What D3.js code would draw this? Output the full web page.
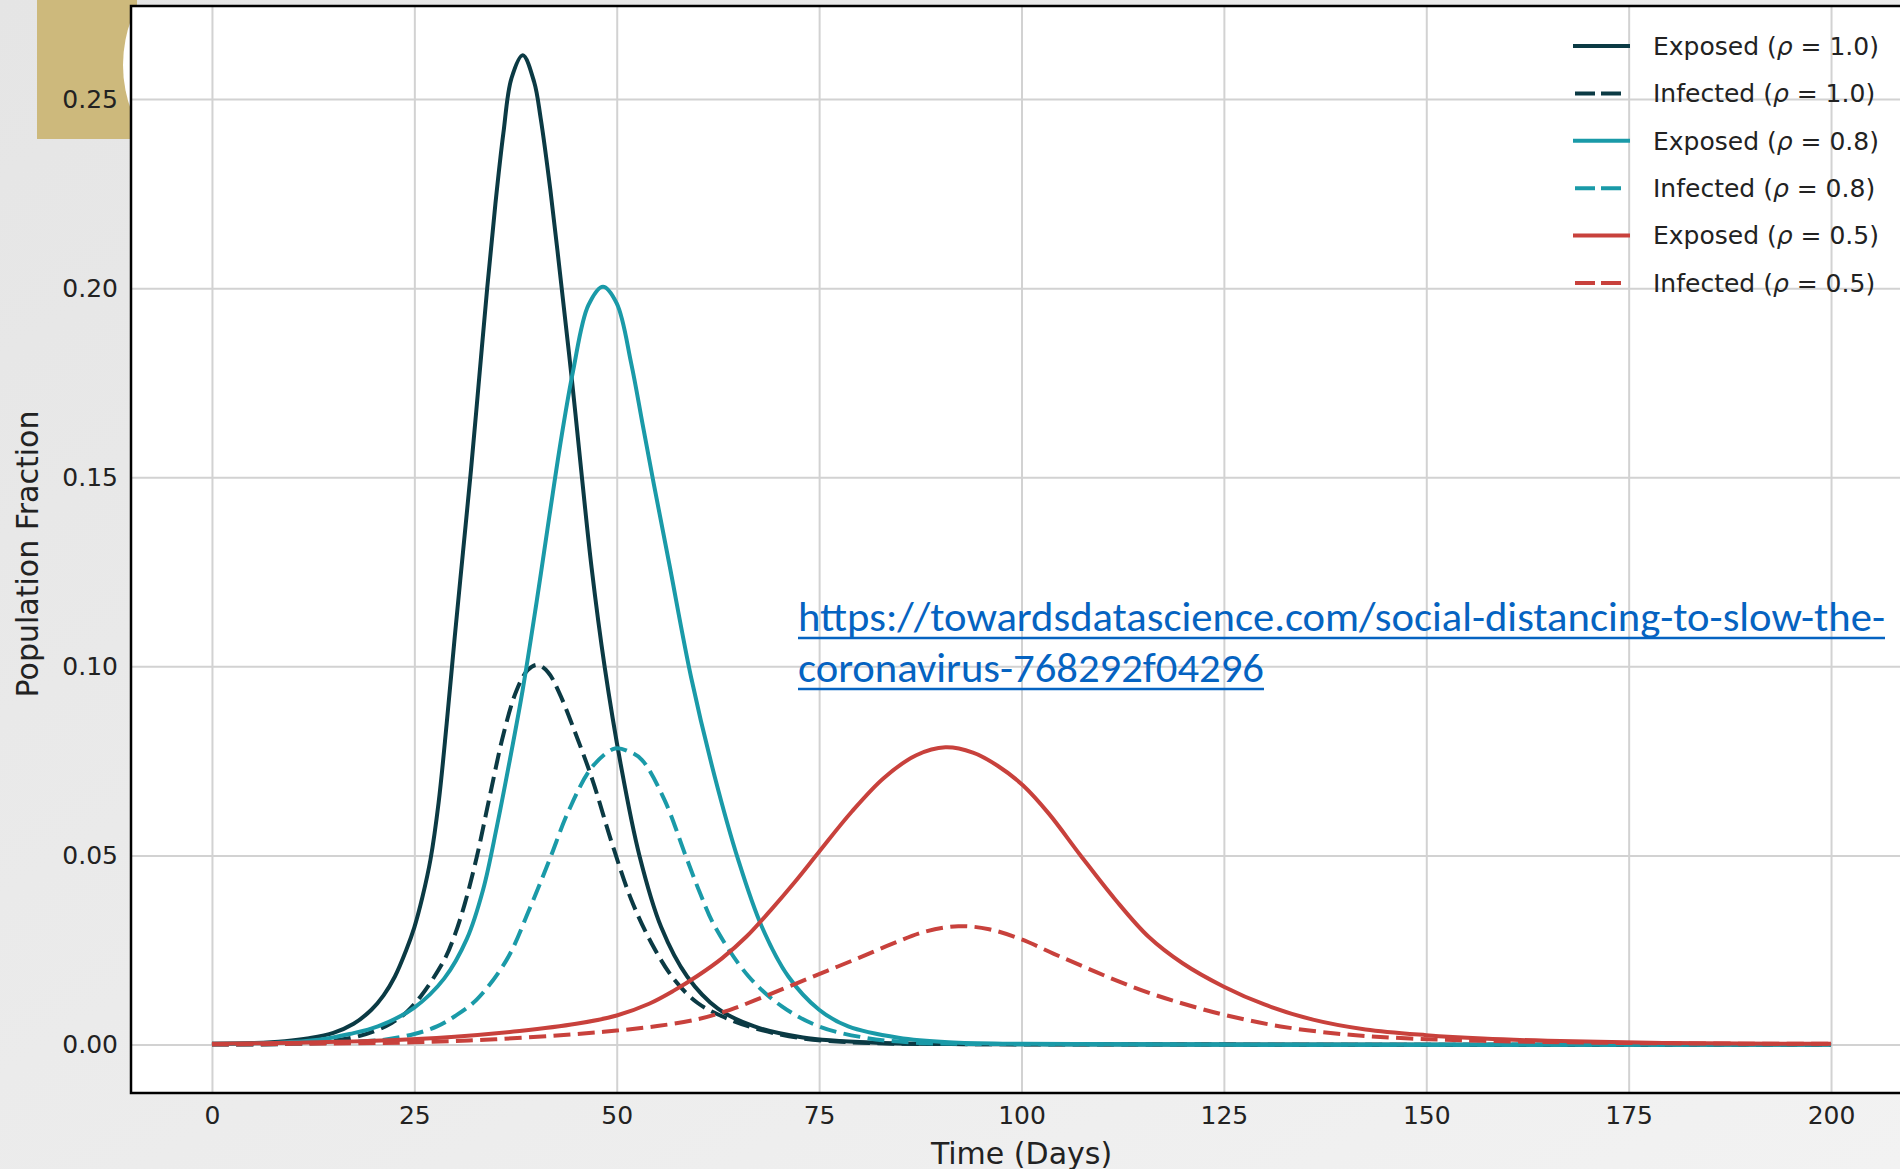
<!DOCTYPE html>
<html><head><meta charset="utf-8">
<script src="https://cdn.jsdelivr.net/npm/d3@7"></script>
<style>html,body{margin:0;padding:0;background:#ebebeb;overflow:hidden}</style>
</head><body>
<svg id="chart" width="1900" height="1169"></svg>
<script>
// ---------------- data ----------------
const xTickValues = [0, 25, 50, 75, 100, 125, 150, 175, 200];
const yTickValues = [0.00, 0.05, 0.10, 0.15, 0.20, 0.25];
const xAxisTitle = "Time (Days)";
const yAxisTitle = "Population Fraction";
const seriesKinds = ["Exposed", "Infected", "Exposed", "Infected", "Exposed", "Infected"];
const seriesRho = ["1.0", "1.0", "0.8", "0.8", "0.5", "0.5"];
const linkLines = ["https://towardsdatascience.com/social-distancing-to-slow-the-", "coronavirus-768292f04296"];

// [day, population fraction]
const exposedRho10 = [[0,0.0002],[5,0.0004],[9,0.0009],[12,0.0017],[15,0.0031],[17.5,0.0055],[19.7,0.0092],[21.2,0.013],[22.6,0.018],[24,0.025],[25,0.031],[26,0.039],[27,0.049],[28,0.064],[29,0.085],[30,0.108],[31,0.13],[32,0.152],[33,0.176],[34,0.20],[35,0.222],[36,0.241],[37,0.2555],[38.4,0.2616],[39.8,0.2545],[40.6,0.245],[41.8,0.226],[43.2,0.20],[44.5,0.175],[45.7,0.15],[46.9,0.126],[48.5,0.10],[50.5,0.074],[52.8,0.05],[55.5,0.031],[58.7,0.018],[62.5,0.0095],[67,0.0048],[73,0.0019],[82,0.0005],[95,0.0001],[120,0],[200,0]];
const infectedRho10 = [[0,0],[10,0.0002],[14,0.0008],[17.3,0.0018],[20,0.0035],[22.2,0.0057],[24,0.0085],[25.8,0.0128],[28.7,0.0224],[30,0.029],[31.2,0.037],[32.7,0.0495],[34.3,0.0655],[36,0.082],[37.6,0.0935],[39,0.099],[40.2,0.1004],[41.5,0.0985],[42.9,0.093],[44.9,0.0823],[47,0.07],[49.4,0.0533],[51.8,0.0383],[54.3,0.0268],[57.1,0.0172],[60,0.011],[63,0.0075],[66.3,0.0048],[72.4,0.0018],[80,0.0005],[95,0.0001],[120,0],[200,0]];
const exposedRho08 = [[0,0.0002],[8,0.0005],[13.2,0.0013],[17,0.0028],[20.5,0.0048],[25,0.0098],[28.7,0.0175],[31.5,0.028],[33.5,0.041],[35.2,0.0577],[36.8,0.0753],[38.4,0.094],[40.1,0.117],[41.7,0.14],[43.2,0.161],[44.6,0.178],[46.5,0.1955],[48.3,0.2004],[50,0.196],[51.8,0.18],[53.2,0.164],[54.6,0.148],[56.5,0.127],[59.2,0.097],[62.1,0.0709],[65,0.0489],[67.9,0.0313],[71.2,0.018],[75,0.0092],[78.6,0.0048],[84.8,0.0018],[91,0.0006],[100,0.0002],[120,0],[200,0]];
const infectedRho08 = [[0,0],[10,0.0002],[16,0.0006],[21.3,0.0013],[25,0.0028],[27.8,0.0048],[30,0.0075],[32.7,0.0119],[36.4,0.0224],[39.2,0.0357],[41.7,0.0489],[44.1,0.062],[47,0.0735],[49.8,0.0783],[51.5,0.0775],[53.1,0.0753],[55.9,0.0647],[58.5,0.05],[60.3,0.040],[62.1,0.0313],[66.3,0.018],[70.4,0.0101],[75,0.0048],[80.7,0.0018],[86.9,0.0005],[100,0.0001],[120,0],[200,0]];
const exposedRho05 = [[0,0.0002],[10,0.0005],[20,0.001],[30,0.0021],[38,0.0036],[45,0.0055],[50,0.0077],[54,0.0108],[57,0.0142],[60,0.0182],[63,0.0228],[66,0.0285],[69,0.0355],[72,0.043],[75,0.051],[79,0.0615],[83,0.0705],[87,0.0765],[90.6,0.0786],[94,0.0772],[97,0.0738],[100.2,0.0685],[103.4,0.061],[107.3,0.050],[111.6,0.0383],[115.7,0.0285],[119.9,0.0215],[125,0.0153],[130,0.0106],[136,0.0066],[142.5,0.004],[150,0.0025],[157,0.0016],[165,0.001],[180,0.0004],[200,0.0002]];
const infectedRho05 = [[0,0],[10,0.0002],[25,0.0006],[35,0.0014],[45,0.0028],[50,0.0037],[55,0.0049],[60,0.0067],[64,0.0092],[68,0.0125],[72,0.016],[76,0.0195],[80,0.023],[84,0.0266],[88,0.0298],[92.2,0.0313],[96,0.0305],[100,0.0278],[104,0.024],[108,0.0203],[112,0.0167],[116,0.0135],[120,0.0108],[125,0.0079],[132,0.0048],[140,0.0027],[148,0.0016],[157,0.001],[175,0.0004],[200,0.0002]];
const seriesData = [exposedRho10, infectedRho10, exposedRho08, infectedRho08, exposedRho05, infectedRho05];

// ---------------- style ----------------
const colors = ["#0b3a44", "#0b3a44", "#1a9aa8", "#1a9aa8", "#c8413c", "#c8413c"];
const tickFont = "'DejaVu Sans', sans-serif";
const plot = {left: 131, right: 1912, top: 6, bottom: 1093};

const svg = d3.select("#chart");
const defs = svg.append("defs");
const bg = defs.append("linearGradient").attr("id", "bg").attr("x1", "0").attr("y1", "0").attr("x2", "1").attr("y2", "1");
bg.append("stop").attr("offset", "0").attr("stop-color", "#e5e5e5");
bg.append("stop").attr("offset", "1").attr("stop-color", "#f2f2f2");
defs.append("clipPath").attr("id", "leftclip").append("rect").attr("x", 0).attr("y", 0).attr("width", plot.left).attr("height", 200);
defs.append("clipPath").attr("id", "plotclip").append("rect")
  .attr("x", plot.left).attr("y", plot.top).attr("width", plot.right - plot.left).attr("height", plot.bottom - plot.top);

svg.append("rect").attr("width", 1900).attr("height", 1169).attr("fill", "url(#bg)");
// slide decoration
svg.append("rect").attr("x", 37).attr("y", 0).attr("width", 100).attr("height", 139).attr("fill", "#cdb97c");
svg.append("circle").attr("cx", 253).attr("cy", 65).attr("r", 130).attr("fill", "#ffffff").attr("clip-path", "url(#leftclip)");

// plot area
svg.append("rect").attr("x", plot.left).attr("y", plot.top).attr("width", plot.right - plot.left)
  .attr("height", plot.bottom - plot.top).attr("fill", "#ffffff");

const x = d3.scaleLinear().domain([-10, 210]).range([plot.left, plot.right]);
const y = d3.scaleLinear().domain([-0.0128, 0.2746]).range([plot.bottom, plot.top]);

// grid
const gx = svg.append("g").attr("transform", `translate(0,${plot.bottom})`)
  .call(d3.axisBottom(x).tickValues(xTickValues).tickSize(-(plot.bottom - plot.top)).tickFormat(""));
gx.select(".domain").remove();
gx.selectAll("line").attr("stroke", "#d2d2d2").attr("stroke-width", 2);
const gy = svg.append("g").attr("transform", `translate(${plot.left},0)`)
  .call(d3.axisLeft(y).tickValues(yTickValues).tickSize(-(plot.right - plot.left)).tickFormat(""));
gy.select(".domain").remove();
gy.selectAll("line").attr("stroke", "#d2d2d2").attr("stroke-width", 2);

// link text
const link = svg.append("g");
const linkY = [631, 682];
const linkW = [1087, 466];
linkLines.forEach((t, i) => {
  link.append("text").attr("x", 798).attr("y", linkY[i]).text(t)
    .attr("font-family", "Calibri, Carlito, 'Open Sans', sans-serif").attr("font-size", 40)
    .attr("fill", "#0563c1").attr("textLength", linkW[i]).attr("lengthAdjust", "spacingAndGlyphs");
  link.append("line").attr("x1", 798).attr("x2", 798 + linkW[i]).attr("y1", linkY[i] + 7).attr("y2", linkY[i] + 7)
    .attr("stroke", "#0563c1").attr("stroke-width", 2.5);
});

// lines
const line = d3.line().x(d => x(d[0])).y(d => y(d[1])).curve(d3.curveCatmullRom.alpha(0.5));
const lg = svg.append("g").attr("clip-path", "url(#plotclip)");
seriesData.forEach((s, i) => {
  lg.append("path").datum(s).attr("d", line).attr("fill", "none")
    .attr("stroke", colors[i]).attr("stroke-width", 4)
    .attr("stroke-dasharray", seriesKinds[i] === "Infected" ? "17,7.4" : null);
});

// frame
svg.append("rect").attr("x", plot.left).attr("y", plot.top).attr("width", plot.right - plot.left)
  .attr("height", plot.bottom - plot.top).attr("fill", "none").attr("stroke", "#000").attr("stroke-width", 2.5);

// tick labels
const ax = svg.append("g").attr("transform", `translate(0,${plot.bottom})`)
  .call(d3.axisBottom(x).tickValues(xTickValues).tickSize(0).tickPadding(13).tickFormat(d3.format("d")));
ax.select(".domain").remove();
ax.selectAll("text").attr("font-family", tickFont).attr("font-size", 25).attr("fill", "#222");
const ay = svg.append("g").attr("transform", `translate(${plot.left},0)`)
  .call(d3.axisLeft(y).tickValues(yTickValues).tickSize(0).tickPadding(13).tickFormat(d3.format(".2f")));
ay.select(".domain").remove();
ay.selectAll("text").attr("font-family", tickFont).attr("font-size", 25).attr("fill", "#222");

// axis titles
svg.append("text").attr("x", (plot.left + plot.right) / 2).attr("y", 1153).attr("dy", "0.35em")
  .attr("text-anchor", "middle").attr("font-family", tickFont).attr("font-size", 30).attr("fill", "#222").text(xAxisTitle);
svg.append("text").attr("transform", "translate(27,554) rotate(-90)").attr("dy", "0.35em")
  .attr("text-anchor", "middle").attr("font-family", tickFont).attr("font-size", 30).attr("fill", "#222").text(yAxisTitle);

// legend
const leg = svg.append("g");
seriesKinds.forEach((k, i) => {
  const cy = 46 + i * 47.4;
  const dashed = k === "Infected";
  leg.append("line").attr("x1", dashed ? 1575 : 1573).attr("x2", dashed ? 1623 : 1630).attr("y1", cy).attr("y2", cy)
    .attr("stroke", colors[i]).attr("stroke-width", 4).attr("stroke-dasharray", dashed ? "20,6" : null);
  const t = leg.append("text").attr("x", 1653).attr("y", cy).attr("dy", "0.35em")
    .attr("font-family", tickFont).attr("font-size", 25).attr("fill", "#222");
  t.append("tspan").text(k + " (");
  t.append("tspan").attr("font-style", "italic").text("ρ");
  t.append("tspan").text(" = " + seriesRho[i] + ")");
});
</script>
</body></html>
